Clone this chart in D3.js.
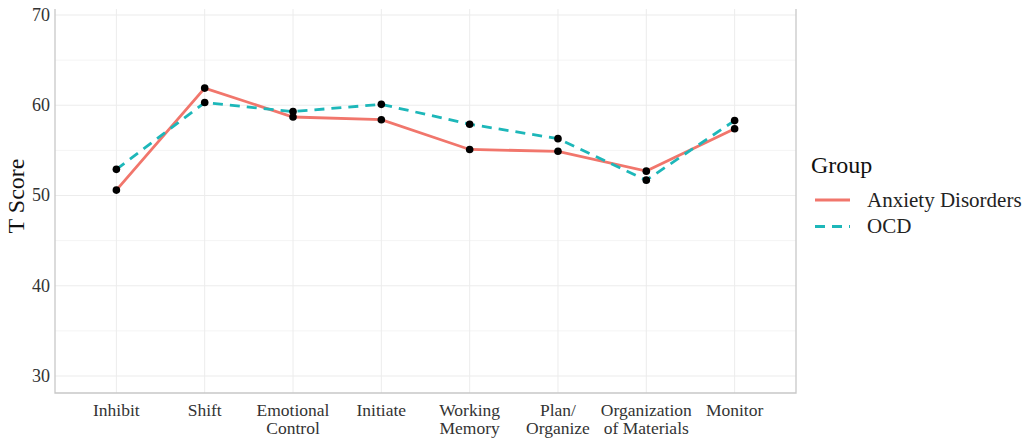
<!DOCTYPE html>
<html><head><meta charset="utf-8">
<script src="https://cdn.jsdelivr.net/npm/d3@7"></script>
<style>body{margin:0;background:#fff}svg{display:block}</style>
</head><body><svg id="c" width="1034" height="440"></svg>
<script>
const categories = [["Inhibit"],["Shift"],["Emotional","Control"],["Initiate"],["Working","Memory"],["Plan/","Organize"],["Organization","of Materials"],["Monitor"]];
const catKeys = categories.map(c=>c.join(" "));
const anxiety = [50.6,61.9,58.7,58.4,55.1,54.9,52.7,57.4];
const ocd = [52.9,60.3,59.3,60.1,57.9,56.3,51.7,58.3];
const seriesNames = ["Anxiety Disorders","OCD"];
const yTicks = [30,40,50,60,70];
const yMinor = [35,45,55,65];
const FF = "Liberation Serif";

const svg = d3.select("#c");
const L=55,R=796,T=9,B=393;
const x = d3.scalePoint().domain(catKeys).range([L,R]).padding(0.695);
const y = d3.scaleLinear().domain([70,30]).range([15,376]);

const g = svg.append("g");
g.selectAll(".mn").data(yMinor).join("line").attr("x1",L).attr("x2",R).attr("y1",d=>y(d)).attr("y2",d=>y(d)).attr("stroke","#f4f4f4").attr("stroke-width",1);
g.selectAll(".mj").data(yTicks).join("line").attr("x1",L).attr("x2",R).attr("y1",d=>y(d)).attr("y2",d=>y(d)).attr("stroke","#ececec").attr("stroke-width",1.2);
g.selectAll(".vx").data(catKeys).join("line").attr("x1",d=>x(d)).attr("x2",d=>x(d)).attr("y1",T).attr("y2",B).attr("stroke","#ececec").attr("stroke-width",1);
g.append("path").attr("d",`M${L},${T}V${B}H${R}V${T}`).attr("fill","none").attr("stroke","#c8c8c8").attr("stroke-width",1.3);

g.selectAll(".yt").data(yTicks).join("text").attr("font-family",FF).attr("x",L-5).attr("y",d=>y(d)).attr("dy","0.33em").attr("text-anchor","end").attr("font-size",18).attr("fill","#333").text(d=>d);
const xl = g.selectAll(".xt").data(categories).join("text").attr("font-family",FF).attr("x",(d,i)=>x(catKeys[i])).attr("y",416).attr("text-anchor","middle").attr("font-size",17.5).attr("fill","#333");
xl.selectAll("tspan").data(d=>d).join("tspan").attr("font-family",FF).attr("x",function(){return this.parentNode.getAttribute("x");}).attr("dy",(d,i)=>i?18:0).text(d=>d);
g.append("text").attr("font-family",FF).attr("transform","translate(24,196) rotate(-90)").attr("text-anchor","middle").attr("font-size",24).attr("fill","#111").text("T Score");

const line = d3.line().x((d,i)=>x(catKeys[i])).y(d=>y(d));
const cols = ["#F1766C","#1DB7B9"];
g.append("path").attr("d",line(anxiety)).attr("fill","none").attr("stroke",cols[0]).attr("stroke-width",2.8);
g.append("path").attr("d",line(ocd)).attr("fill","none").attr("stroke",cols[1]).attr("stroke-width",2.8).attr("stroke-dasharray","10,7");
[anxiety,ocd].forEach(s=>{
  g.selectAll(null).data(s).join("circle").attr("cx",(d,i)=>x(catKeys[i])).attr("cy",d=>y(d)).attr("r",3.8).attr("fill","#000");
});

const lg = svg.append("g");
lg.append("text").attr("font-family",FF).attr("x",811).attr("y",173).attr("font-size",24).attr("fill","#111").text("Group");
seriesNames.forEach((n,i)=>{
  const yy = 200+i*26.5;
  lg.append("line").attr("x1",815).attr("x2",850).attr("y1",yy).attr("y2",yy).attr("stroke",cols[i]).attr("stroke-width",2.8).attr("stroke-dasharray",i?"10,7":null);
  lg.append("text").attr("font-family",FF).attr("x",867).attr("y",yy).attr("dy","0.33em").attr("font-size",21).attr("fill","#222").text(n);
});
</script></body></html>
